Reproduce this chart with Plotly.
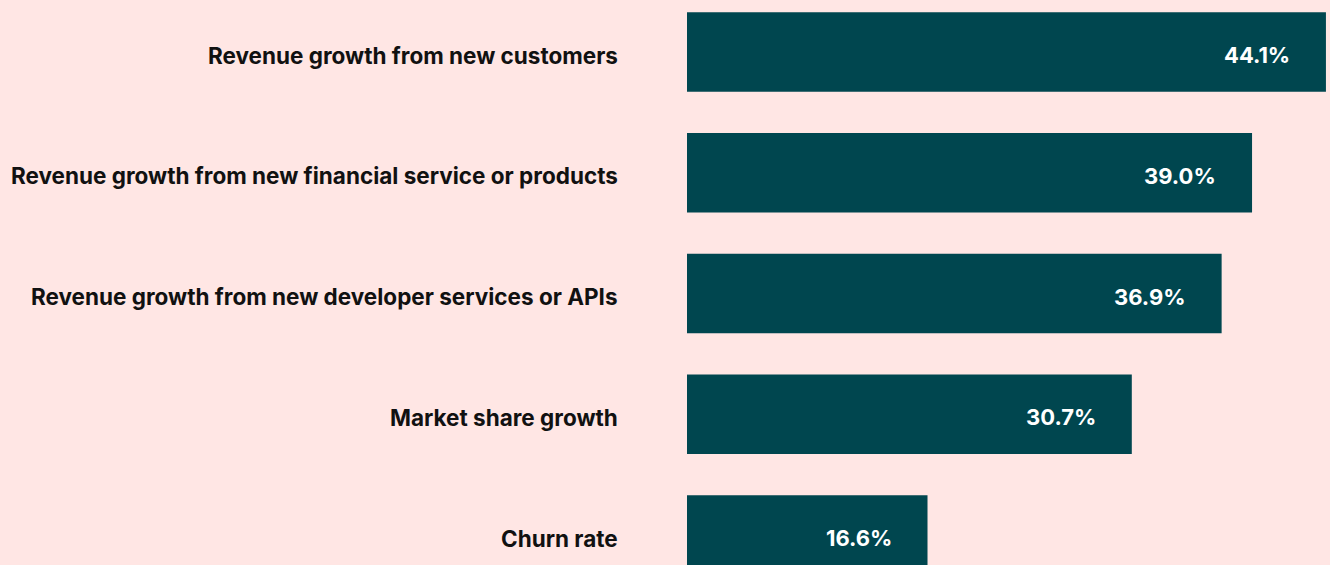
import plotly.graph_objects as go

categories = [
    "Revenue growth from new customers",
    "Revenue growth from new financial service or products",
    "Revenue growth from new developer services or APIs",
    "Market share growth",
    "Churn rate",
]
values = [44.1, 39.0, 36.9, 30.7, 16.6]
value_labels = [f"{v:.1f}%" for v in values]

BG = "#FFE6E4"
BAR = "#00464F"
FONT = "Inter"

fig = go.Figure()
fig.add_trace(go.Bar(
    x=values,
    y=categories,
    orientation="h",
    marker=dict(color=BAR, line=dict(width=0)),
    width=0.66,
    hoverinfo="skip",
))

# value labels inside the bars
for c, v, t in zip(categories, values, value_labels):
    fig.add_annotation(
        x=v, y=c, text=f"<b>{t}</b>", showarrow=False,
        xanchor="right", yanchor="middle", xshift=-34, yshift=-3,
        font=dict(family=FONT, size=22, color="white"),
    )

# category labels to the left of the axis
for c in categories:
    fig.add_annotation(
        x=0, y=c, text=f"<b>{c}</b>", showarrow=False,
        xanchor="right", yanchor="middle", xshift=-67, yshift=-3,
        font=dict(family=FONT, size=22.5, color="#111111"),
    )

fig.update_layout(
    width=1330, height=565,
    margin=dict(l=687, r=0, t=0, b=0),
    paper_bgcolor=BG, plot_bgcolor=BG,
    showlegend=False,
    bargap=0.34,
    xaxis=dict(range=[0, 44.38], visible=False, showgrid=False, zeroline=False),
    yaxis=dict(
        type="category",
        categoryorder="array", categoryarray=categories,
        range=[4.2484, -0.4306],
        showgrid=False, zeroline=False, showline=False, ticks="",
        showticklabels=False,
    ),
)

fig.write_html(
    "out.html",
    config={"displayModeBar": False},
    post_script="document.body.style.margin='0';document.body.style.background='#FFE6E4';",
)
